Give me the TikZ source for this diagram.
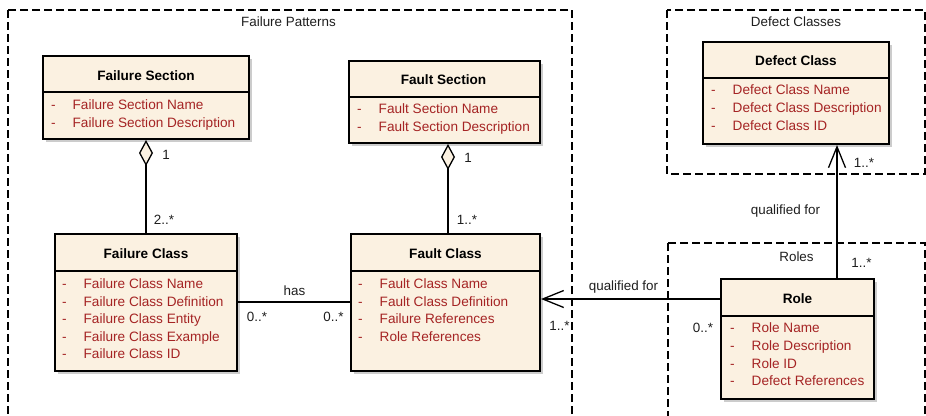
\documentclass[tikz,border=0pt]{standalone}
\usepackage{fontspec}
\setmainfont{Liberation Sans}
\usetikzlibrary{arrows.meta,shadows}
\definecolor{cream}{RGB}{251,241,225}
\definecolor{attrred}{RGB}{165,36,36}
\definecolor{labelgray}{RGB}{30,30,30}

\tikzset{
  frame/.style={line width=1.8pt, dash pattern=on 8pt off 4pt},
  classbox/.style={draw, line width=2pt, fill=cream, inner sep=0pt,
    drop shadow={shadow xshift=3pt, shadow yshift=-3pt, fill=black!20, opacity=1}},
  sepline/.style={line width=1.2pt},
  classtitle/.style={font=\bfseries\fontsize{13.6}{15}\selectfont, anchor=base, inner sep=0pt},
  attr/.style={font=\fontsize{13.6}{15}\selectfont, text=attrred, anchor=base west, inner sep=0pt},
  lbl/.style={font=\fontsize{13.4}{15}\selectfont, text=labelgray, anchor=base, inner sep=0pt},
  assoc/.style={line width=1.5pt},
  aggr/.style={assoc, {Diamond[length=26pt, width=14pt, fill=cream, line width=1.3pt]}-},
  navig/.style={assoc, -{Straight Barb[length=21pt, width=17pt, line width=1.3pt]}},
}
% one attribute row: name, x, baseline y, text
\newcommand\attrline[4]{\node[attr] (#1) at (#2,#3) {\makebox[21.5pt][l]{-}#4};}

\begin{document}
\begin{tikzpicture}[x=1pt,y=-1pt]
\useasboundingbox (0,0) rectangle (926,415);
\clip (0,0) rectangle (926,415);

% package frames
\draw[frame] (8,10) rectangle (572,440);
\node[lbl] (fpl) at (288.5,27) {Failure Patterns};
\draw[frame] (667,10) rectangle (925,174);
\node[lbl] (dcl) at (796,27) {Defect Classes};
\draw[frame] (668,243) rectangle (925,440);
\node[lbl] (rl) at (796.5,261) {Roles};

% Failure Section
\node[classbox, minimum width=206pt, minimum height=83pt] (fs) at (146,97.5) {};
\draw[sepline] (fs.west |- 0,92) -- (fs.east |- 0,92);
\node[classtitle] (fst) at (146,80.5) {Failure Section};
\attrline{fsa1}{51}{109.5}{Failure Section Name}
\attrline{fsa2}{51}{127.5}{Failure Section Description}

% Fault Section
\node[classbox, minimum width=191pt, minimum height=82pt] (fas) at (444.5,102) {};
\draw[sepline] (fas.west |- 0,97) -- (fas.east |- 0,97);
\node[classtitle] (fast) at (443.5,84.5) {Fault Section};
\attrline{fasa1}{357}{113.5}{Fault Section Name}
\attrline{fasa2}{357}{131.5}{Fault Section Description}

% Defect Class
\node[classbox, minimum width=186pt, minimum height=102pt] (dc) at (796,93) {};
\draw[sepline] (dc.west |- 0,78) -- (dc.east |- 0,78);
\node[classtitle] (dct) at (796,65.5) {Defect Class};
\attrline{dca1}{711}{94.5}{Defect Class Name}
\attrline{dca2}{711}{112.5}{Defect Class Description}
\attrline{dca3}{711}{130.5}{Defect Class ID}

% Failure Class
\node[classbox, minimum width=182pt, minimum height=137pt] (fc) at (146,302.5) {};
\draw[sepline] (fc.west |- 0,271) -- (fc.east |- 0,271);
\node[classtitle] (fct) at (146,258.5) {Failure Class};
\attrline{fca1}{62}{288.5}{Failure Class Name}
\attrline{fca2}{62}{306}{Failure Class Definition}
\attrline{fca3}{62}{323.5}{Failure Class Entity}
\attrline{fca4}{62}{341}{Failure Class Example}
\attrline{fca5}{62}{358.5}{Failure Class ID}

% Fault Class
\node[classbox, minimum width=189pt, minimum height=137pt] (fac) at (445.5,302.5) {};
\draw[sepline] (fac.west |- 0,271) -- (fac.east |- 0,271);
\node[classtitle] (fact) at (445.5,258.5) {Fault Class};
\attrline{faca1}{358}{288.5}{Fault Class Name}
\attrline{faca2}{358}{306}{Fault Class Definition}
\attrline{faca3}{358}{323.5}{Failure References}
\attrline{faca4}{358}{341}{Role References}

% Role
\node[classbox, minimum width=153pt, minimum height=120pt] (role) at (797.5,339) {};
\draw[sepline] (role.west |- 0,316) -- (role.east |- 0,316);
\node[classtitle] (rolet) at (797.5,303.5) {Role};
\attrline{rolea1}{730}{332.8}{Role Name}
\attrline{rolea2}{730}{350.4}{Role Description}
\attrline{rolea3}{730}{368}{Role ID}
\attrline{rolea4}{730}{385.6}{Defect References}

% connector routing
\coordinate (fx) at (448,0);
\coordinate (hy) at (0,302);
\coordinate (rq) at (0,299);
\coordinate (rx) at (837,0);

% aggregations
\draw[aggr] (fs.south) -- (fc.north);
\node[lbl] (m1) at (166,159) {1};
\node[lbl] (m2) at (164,224.5) {2..*};

\draw[aggr] (fas.south -| fx) -- (fac.north -| fx);
\node[lbl] (m3) at (468,162) {1};
\node[lbl] (m4) at (467,224.5) {1..*};

% has
\draw[assoc] (fc.east |- hy) -- (fac.west |- hy);
\node[lbl] (has) at (294.5,295) {has};
\node[lbl] (m5) at (257,321) {0..*};
\node[lbl] (m6) at (333.5,321) {0..*};

% Role -> Fault Class
\draw[navig] (role.west |- rq) -- (fac.east |- rq);
\node[lbl] (q1) at (623.5,290.5) {qualified for};
\node[lbl] (m7) at (559.5,330.5) {1..*};
\node[lbl] (m8) at (703,332.5) {0..*};

% Role -> Defect Class
\draw[navig] (role.north -| rx) -- (dc.south -| rx);
\node[lbl] (q2) at (785.5,214.5) {qualified for};
\node[lbl] (m9) at (861.5,267) {1..*};
\node[lbl] (m10) at (864,167.5) {1..*};
\end{tikzpicture}
\end{document}
